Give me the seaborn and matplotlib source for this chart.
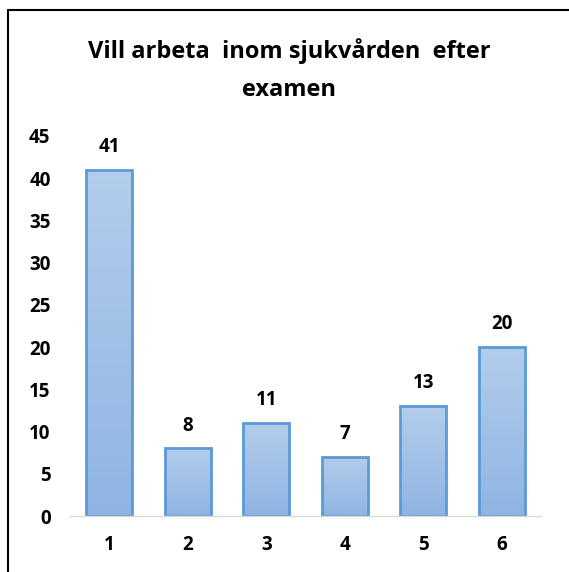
import numpy as np
import pandas as pd
import matplotlib
matplotlib.use("Agg")
import matplotlib.pyplot as plt
import seaborn as sns
from matplotlib.colors import LinearSegmentedColormap

categories = ["1", "2", "3", "4", "5", "6"]
values = [41, 8, 11, 7, 13, 20]
yticks = [0, 5, 10, 15, 20, 25, 30, 35, 40, 45]
title = "Vill arbeta  inom sjukvården  efter\nexamen"

sns.set_theme(style="white")
plt.rcParams['font.family'] = ['Open Sans', 'DejaVu Sans']
plt.rcParams['text.color'] = 'black'

df = pd.DataFrame({"cat": categories, "val": values})

fig = plt.figure(figsize=(5.69, 5.72), dpi=100)
ax = fig.add_axes([70/569, (572-516)/572, (541-70)/569, (516-136)/572])

sns.barplot(data=df, x="cat", y="val", ax=ax, width=0.58,
            color="#a7c4e8", edgecolor="#5b9bd5", linewidth=2, saturation=1)

# gradient fill clipped to each bar
cmap = LinearSegmentedColormap.from_list("g", ["#8fb4e3", "#b3cdeb"])
grad = np.linspace(0, 1, 256).reshape(-1, 1)
for patch in ax.patches:
    x0, y0 = patch.get_x(), patch.get_y()
    w, h = patch.get_width(), patch.get_height()
    im = ax.imshow(grad, extent=[x0, x0 + w, y0, y0 + h], origin="lower",
                   aspect="auto", cmap=cmap, zorder=patch.get_zorder() - 0.01)
    im.set_clip_path(patch)
    patch.set_facecolor("none")

ax.set_xlim(-0.5, 5.5)
ax.set_ylim(0, 45)
ax.set_yticks(yticks)
ax.set_xlabel("")
ax.set_ylabel("")
for s in ["top", "right", "left"]:
    ax.spines[s].set_visible(False)
ax.spines["bottom"].set_color("#d9d9d9")
ax.spines["bottom"].set_linewidth(1)
ax.tick_params(axis="y", length=0, pad=14, labelsize=13.5)
ax.tick_params(axis="x", length=0, pad=14, labelsize=13.5)
for lab in ax.get_xticklabels() + ax.get_yticklabels():
    lab.set_fontweight("bold")
    lab.set_color("#000000")

for i, v in enumerate(values):
    ax.annotate(str(v), (i, v), xytext=(0, 16.5), textcoords="offset points",
                ha="center", va="center", fontsize=13.5, fontweight="bold",
                color="black")

fig.text(289/569, 1 - 70/572, title, ha="center", va="center",
         fontsize=17, fontweight="bold", linespacing=1.75, color="black")

# outer frame lines (top and left)
fig.add_artist(plt.Line2D([8/569, 1], [1 - 10/572, 1 - 10/572],
                          transform=fig.transFigure, color="black", lw=1.5))
fig.add_artist(plt.Line2D([8/569, 8/569], [0, 1 - 10/572],
                          transform=fig.transFigure, color="black", lw=1.5))

fig.savefig("out.png", dpi=100)
